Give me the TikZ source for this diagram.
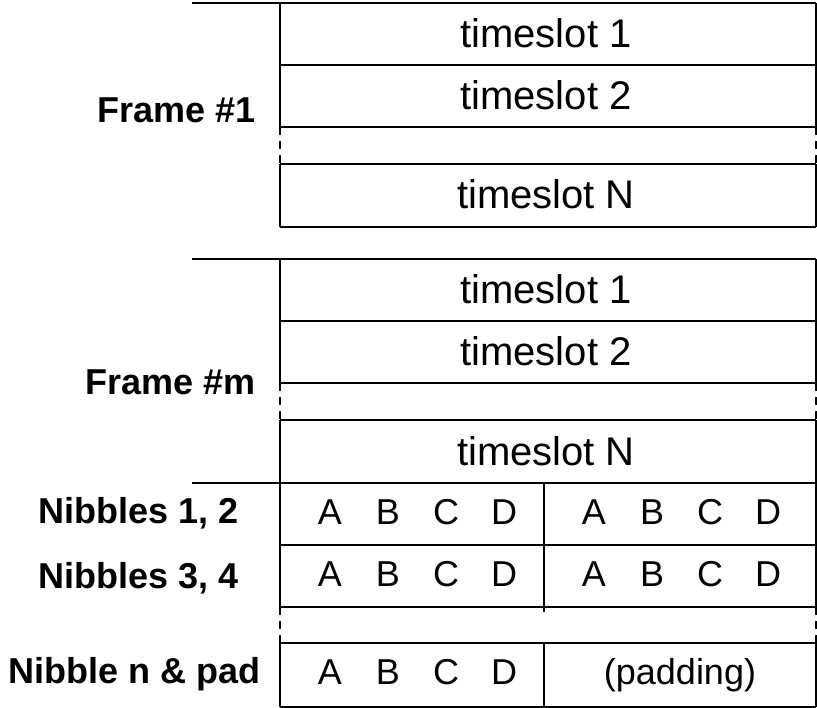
\documentclass[tikz,border=0pt]{standalone}
\usepackage{fontspec}
\setmainfont{Liberation Sans}
\usetikzlibrary{positioning}
\tikzset{
  slotline/.style={line width=2.5pt},
  gapline/.style={line width=2.5pt, dash pattern=on 8pt off 6pt},
  slottext/.style={font=\fontsize{40}{44}\selectfont, inner sep=0pt, anchor=base},
  nibtext/.style={font=\fontsize{36}{40}\selectfont, inner sep=0pt, anchor=base},
  rowlabel/.style={font=\bfseries\fontsize{36}{40}\selectfont, inner sep=0pt, anchor=base east},
}

\begin{document}
\begin{tikzpicture}[x=1pt, y=-1pt]
      \useasboundingbox (0,0) rectangle (817,708);
      % frame #1
      \draw[slotline] (192,3)--(816,3);
      \draw[slotline] (280,3)--(280,127) (816,3)--(816,127);
      \draw[gapline] (280,127)--(280,164) (816,127)--(816,164);
      \draw[slotline] (280,164)--(280,227) (816,164)--(816,227);
      \draw[slotline] (280,65)--(816,65) (280,127)--(816,127);
      \draw[slotline] (280,164)--(816,164) (280,227)--(816,227);
      \node[slottext] (f1s1) at (546,48) {timeslot 1};
      \node[slottext] (f1s2) at (546,110) {timeslot 2};
      \node[slottext] (f1sN) at (546,209) {timeslot N};
      \node[rowlabel] (frame1) at (256,123) {Frame \#1};
      % frame #m
      \draw[slotline] (192,259)--(816,259);
      \draw[slotline] (280,259)--(280,383) (816,259)--(816,383);
      \draw[gapline] (280,383)--(280,420) (816,383)--(816,420);
      \draw[slotline] (280,420)--(280,607) (816,420)--(816,607);
      \draw[slotline] (280,321)--(816,321) (280,383)--(816,383);
      \draw[slotline] (280,420)--(816,420) (192,483)--(816,483);
      \node[slottext] (fms1) at (546,304) {timeslot 1};
      \node[slottext] (fms2) at (546,366) {timeslot 2};
      \node[slottext] (fmsN) at (546,466) {timeslot N};
      \node[rowlabel] (framem) at (256,395) {Frame \#m};
      % nibbles of the last timeslot
      \draw[slotline] (280,545)--(816,545) (280,607)--(816,607);
      \draw[gapline] (280,607)--(280,643) (816,607)--(816,643);
      \draw[slotline] (280,643)--(280,707) (816,643)--(816,707);
      \draw[slotline] (280,643)--(816,643) (280,707)--(816,707);
      \draw[slotline] (544,483)--(544,612) (544,642)--(544,707);
      \foreach \l [count=\i] in {A,B,C,D} {
        \node[nibtext] (n1a\i) at (272+58*\i,524) {\l};
        \node[nibtext] (n1b\i) at (536+58*\i,524) {\l};
        \node[nibtext] (n2a\i) at (272+58*\i,586) {\l};
        \node[nibtext] (n2b\i) at (536+58*\i,586) {\l};
        \node[nibtext] (nna\i) at (272+58*\i,684) {\l};
      }
      \node[nibtext] (pad) at (680,684) {(padding)};
      \node[rowlabel] (nib12) at (239,523) {Nibbles 1, 2};
      \node[rowlabel] (nib34) at (239,588) {Nibbles 3, 4};
      \node[rowlabel] (nibn) at (261,683) {Nibble n \& pad};
    \end{tikzpicture}
\end{document}
